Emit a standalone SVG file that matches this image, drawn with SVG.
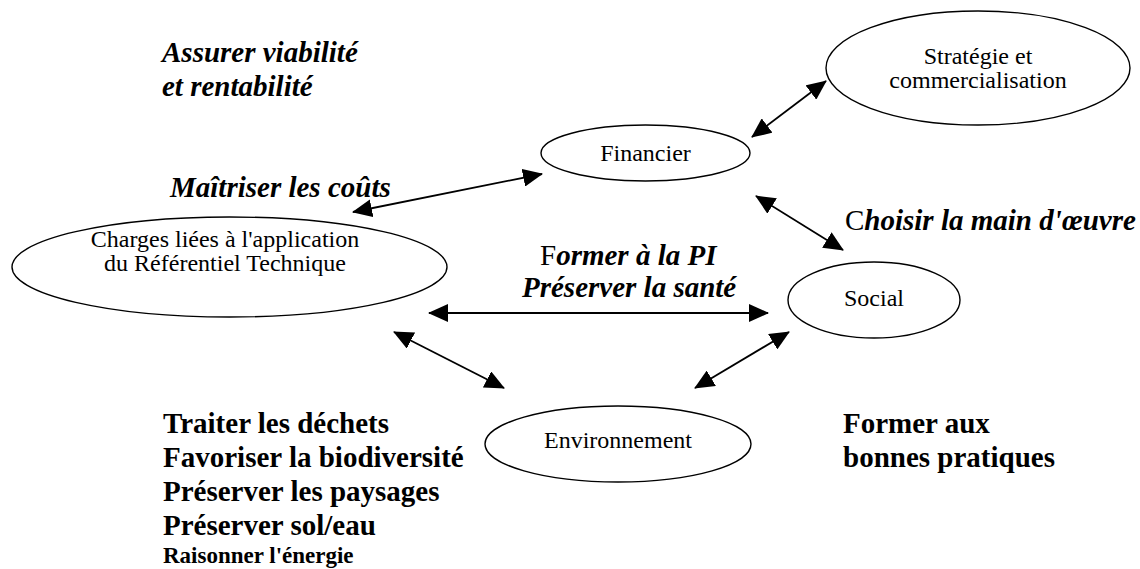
<svg xmlns="http://www.w3.org/2000/svg" width="1140" height="569" viewBox="0 0 1140 569">
<style>
.node ellipse{fill:#fff;stroke:#000;stroke-width:1.4}
.nt{font-family:"Liberation Serif","Times New Roman",serif;font-size:24px;fill:#000;text-anchor:middle}
.bi{font-family:"Liberation Serif","Times New Roman",serif;font-size:29px;font-weight:bold;font-style:italic;fill:#000}
.b{font-family:"Liberation Serif","Times New Roman",serif;font-size:29px;font-weight:bold;fill:#000}
.reg{font-weight:normal;font-style:normal}
#connectors line{stroke:#000;stroke-width:1.8;marker-start:url(#ah);marker-end:url(#ah)}
</style>
<defs>
<marker id="ah" viewBox="0 0 20 18" refX="19" refY="9" markerWidth="20" markerHeight="18" markerUnits="userSpaceOnUse" orient="auto-start-reverse">
<path d="M0,0 L20,9 L0,18 z" fill="#000"/>
</marker>
</defs>
<rect width="1140" height="569" fill="#fff"/>

<g id="connectors">
<line x1="353" y1="212" x2="542" y2="174"/>
<line x1="752" y1="137" x2="826" y2="81"/>
<line x1="756" y1="196" x2="843" y2="250"/>
<line x1="429" y1="313" x2="768" y2="313"/>
<line x1="394" y1="332" x2="504" y2="388"/>
<line x1="695" y1="388" x2="789" y2="332"/>
</g>

<g id="node-strategie" class="node">
<ellipse cx="978" cy="68" rx="152" ry="57"/>
<text class="nt" x="978" y="64">Stratégie et</text>
<text class="nt" x="978" y="88">commercialisation</text>
</g>
<g id="node-financier" class="node">
<ellipse cx="645.5" cy="153" rx="104.5" ry="28"/>
<text class="nt" x="645.5" y="161">Financier</text>
</g>
<g id="node-charges" class="node">
<ellipse cx="229.5" cy="267" rx="217.5" ry="50"/>
<text class="nt" x="225" y="247">Charges liées à l'application</text>
<text class="nt" x="225" y="271">du Référentiel Technique</text>
</g>
<g id="node-social" class="node">
<ellipse cx="874" cy="300" rx="86" ry="38"/>
<text class="nt" x="874" y="306">Social</text>
</g>
<g id="node-environnement" class="node">
<ellipse cx="618" cy="444" rx="133" ry="38"/>
<text class="nt" x="618" y="448">Environnement</text>
</g>

<g id="labels">
<text class="bi" x="162" y="62">Assurer viabilité</text>
<text class="bi" x="162" y="96">et rentabilité</text>
<text class="bi" x="170" y="197">Maîtriser les coûts</text>
<text class="bi" x="845" y="230"><tspan class="reg">C</tspan>hoisir la main d'œuvre</text>
<text class="bi" x="540" y="265"><tspan class="reg">F</tspan>ormer à la PI</text>
<text class="bi" x="522" y="297">Préserver la santé</text>
<text class="b" x="163" y="433">Traiter les déchets</text>
<text class="b" x="163" y="467">Favoriser la biodiversité</text>
<text class="b" x="163" y="501">Préserver les paysages</text>
<text class="b" x="163" y="535">Préserver sol/eau</text>
<text class="b" x="163" y="563" style="font-size:23px">Raisonner l'énergie</text>
<text class="b" x="843" y="433">Former aux</text>
<text class="b" x="843" y="467">bonnes pratiques</text>
</g>
</svg>
